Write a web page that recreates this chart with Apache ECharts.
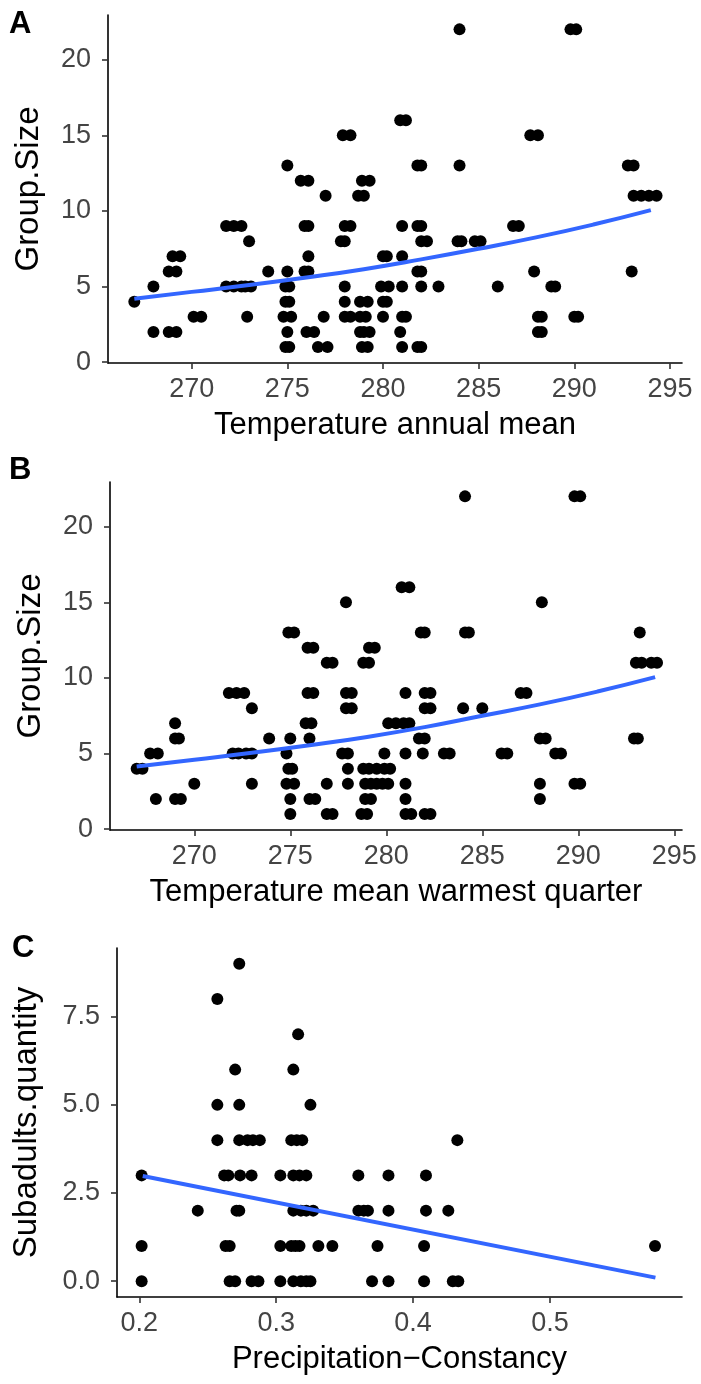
<!DOCTYPE html>
<html>
<head>
<meta charset="utf-8">
<script src="https://cdn.jsdelivr.net/npm/echarts@6/dist/echarts.min.js"></script>
<style>
  html, body { margin: 0; padding: 0; background: #fff; }
  #chart { width: 701px; height: 1384px; }
</style>
</head>
<body>
<div id="chart"></div>
<script>
// panel A: Group.Size vs temperature annual mean
const annualMeanPts = [
  [284.0, 22], [289.8, 22], [290.1, 22],
  [280.9, 16], [281.2, 16],
  [277.9, 15], [278.3, 15], [287.7, 15], [288.1, 15],
  [275.0, 13], [281.8, 13], [282.0, 13], [284.0, 13], [292.8, 13], [293.1, 13],
  [275.7, 12], [276.1, 12], [278.9, 12], [279.3, 12],
  [277.0, 11], [278.7, 11], [279.0, 11], [293.1, 11], [293.5, 11], [293.9, 11], [294.3, 11],
  [271.8, 9], [272.2, 9], [272.6, 9], [275.9, 9], [276.1, 9], [278.0, 9], [278.3, 9],
  [281.0, 9], [281.8, 9], [282.0, 9], [286.8, 9], [287.1, 9],
  [273.0, 8], [277.8, 8], [278.0, 8], [282.0, 8], [282.3, 8], [283.9, 8], [284.1, 8], [284.8, 8], [285.1, 8],
  [269.0, 7], [269.4, 7], [276.1, 7], [280.0, 7], [280.2, 7], [281.0, 7],
  [268.8, 6], [269.2, 6], [274.0, 6], [275.0, 6], [275.9, 6], [276.1, 6], [281.8, 6], [282.0, 6], [287.9, 6], [293.0, 6],
  [268.0, 5], [271.8, 5], [272.2, 5], [272.6, 5], [272.8, 5], [273.1, 5], [274.9, 5], [275.1, 5], [278.0, 5],
  [279.9, 5], [280.3, 5], [281.0, 5], [282.0, 5], [282.9, 5], [286.0, 5], [288.8, 5], [289.0, 5],
  [267.0, 4], [274.9, 4], [275.1, 4], [278.0, 4], [278.8, 4], [279.2, 4], [280.0, 4], [280.2, 4],
  [270.1, 3], [270.5, 3], [272.9, 3], [274.8, 3], [275.2, 3], [276.9, 3], [278.0, 3], [278.3, 3], [278.8, 3],
  [279.1, 3], [280.0, 3], [281.0, 3], [281.2, 3], [288.1, 3], [288.3, 3], [290.0, 3], [290.2, 3],
  [268.0, 2], [268.8, 2], [269.2, 2], [275.0, 2], [276.0, 2], [276.4, 2], [278.8, 2], [279.0, 2], [279.3, 2],
  [280.9, 2], [288.1, 2], [288.3, 2],
  [274.9, 1], [275.1, 1], [276.6, 1], [277.1, 1], [278.9, 1], [279.2, 1], [281.0, 1], [281.8, 1], [282.0, 1]
]
const annualMeanFit = [
  [267, 4.2], [270, 4.65], [273, 5.1], [276, 5.6], [279, 6.15],
  [282, 6.8], [285, 7.5], [288, 8.25], [291, 9.1], [294, 10.05]
]

// panel B: Group.Size vs temperature mean warmest quarter
const warmestPts = [
  [284.1, 22], [289.8, 22], [290.1, 22],
  [280.8, 16], [281.2, 16],
  [277.9, 15], [288.1, 15],
  [274.9, 13], [275.2, 13], [281.8, 13], [282.0, 13], [284.1, 13], [284.3, 13], [293.2, 13],
  [275.9, 12], [276.2, 12], [279.1, 12], [279.4, 12],
  [276.9, 11], [277.2, 11], [278.8, 11], [279.1, 11], [293.0, 11], [293.3, 11], [293.8, 11], [294.1, 11],
  [271.8, 9], [272.2, 9], [272.6, 9], [275.9, 9], [276.2, 9], [277.9, 9], [278.2, 9],
  [281.0, 9], [282.0, 9], [282.3, 9], [287.0, 9], [287.3, 9],
  [273.0, 8], [277.9, 8], [278.2, 8], [282.0, 8], [282.3, 8], [284.0, 8], [285.0, 8],
  [269.0, 7], [275.8, 7], [276.1, 7], [280.1, 7], [280.5, 7], [280.9, 7], [281.2, 7],
  [269.0, 6], [269.2, 6], [273.9, 6], [275.0, 6], [276.0, 6], [281.7, 6], [282.0, 6], [288.0, 6], [288.3, 6], [292.9, 6], [293.1, 6],
  [267.7, 5], [268.1, 5], [272.0, 5], [272.3, 5], [272.7, 5], [273.0, 5], [274.8, 5], [277.7, 5], [278.0, 5],
  [279.9, 5], [281.0, 5], [281.9, 5], [283.0, 5], [283.3, 5], [286.0, 5], [286.3, 5], [288.8, 5], [289.1, 5],
  [267.0, 4], [267.3, 4], [274.9, 4], [275.1, 4], [278.0, 4], [278.8, 4], [279.1, 4], [279.5, 4], [279.9, 4], [280.2, 4],
  [270.0, 3], [273.0, 3], [274.8, 3], [275.2, 3], [276.9, 3], [278.0, 3], [278.9, 3], [279.2, 3], [279.5, 3],
  [279.8, 3], [280.1, 3], [281.0, 3], [288.0, 3], [289.8, 3], [290.1, 3],
  [268.0, 2], [269.0, 2], [269.3, 2], [275.0, 2], [276.0, 2], [276.3, 2], [278.9, 2], [279.2, 2], [281.0, 2], [288.0, 2],
  [275.0, 1], [276.9, 1], [277.2, 1], [278.7, 1], [279.0, 1], [281.0, 1], [281.3, 1], [282.0, 1], [282.3, 1]
]
const warmestFit = [
  [267, 4.15], [270, 4.6], [273, 5.05], [276, 5.55], [279, 6.1],
  [282, 6.75], [285, 7.5], [288, 8.25], [291, 9.1], [294, 10.05]
]

// panel C: Subadults.quantity vs precipitation constancy
const constancyPts = [
  [0.273, 9],
  [0.257, 8],
  [0.316, 7],
  [0.270, 6], [0.3125, 6],
  [0.257, 5], [0.273, 5], [0.325, 5],
  [0.257, 4], [0.273, 4], [0.279, 4], [0.283, 4], [0.288, 4], [0.311, 4], [0.315, 4], [0.319, 4], [0.4323, 4],
  [0.2017, 3], [0.262, 3], [0.265, 3], [0.2736, 3], [0.282, 3], [0.303, 3], [0.3125, 3], [0.317, 3], [0.322, 3],
  [0.360, 3], [0.382, 3], [0.4094, 3],
  [0.2427, 2], [0.271, 2], [0.273, 2], [0.3125, 2], [0.318, 2], [0.322, 2], [0.327, 2], [0.360, 2], [0.364, 2],
  [0.367, 2], [0.382, 2], [0.4094, 2], [0.4257, 2],
  [0.2017, 1], [0.263, 1], [0.266, 1], [0.303, 1], [0.311, 1], [0.314, 1], [0.317, 1], [0.3308, 1], [0.341, 1],
  [0.374, 1], [0.408, 1], [0.5767, 1],
  [0.2017, 0], [0.266, 0], [0.270, 0], [0.282, 0], [0.287, 0], [0.303, 0], [0.3125, 0], [0.318, 0], [0.322, 0],
  [0.325, 0], [0.370, 0], [0.382, 0], [0.408, 0], [0.429, 0], [0.433, 0]
]
const constancyFit = [[0.2025, 2.98], [0.577, 0.1]]

const tempTicks = [270, 275, 280, 285, 290, 295]
const groupTicks = [0, 5, 10, 15, 20]
const constancyTicks = [0.2, 0.3, 0.4, 0.5]
const subadultTicks = [0, 2.5, 5, 7.5]

const FONT = 'Liberation Sans, Arial, sans-serif'
const BLUE = '#3366FF'

const chart = echarts.init(document.getElementById('chart'))

function xAxis(i, min, max, ticks, name, fmt) {
  return {
    gridIndex: i, type: 'value', min, max,
    axisLine: { show: true, onZero: false, lineStyle: { color: '#000', width: 1.6 } },
    axisTick: { show: true, length: 6, customValues: ticks, lineStyle: { color: '#333', width: 1.6 } },
    axisLabel: { customValues: ticks, color: '#444', fontSize: 27, fontFamily: FONT, margin: 13, formatter: fmt },
    splitLine: { show: false },
    name, nameLocation: 'middle', nameGap: 47,
    nameTextStyle: { color: '#000', fontSize: 31, fontFamily: FONT }
  }
}
function yAxis(i, min, max, ticks, name, gap, fmt) {
  return {
    gridIndex: i, type: 'value', min, max,
    axisLine: { show: true, onZero: false, lineStyle: { color: '#000', width: 1.6 } },
    axisTick: { show: true, length: 6, customValues: ticks, lineStyle: { color: '#333', width: 1.6 } },
    axisLabel: { customValues: ticks, color: '#444', fontSize: 27, fontFamily: FONT, margin: 17, formatter: fmt },
    splitLine: { show: false },
    name, nameLocation: 'middle', nameGap: gap,
    nameTextStyle: { color: '#000', fontSize: 33, fontFamily: FONT }
  }
}
function dots(i, data) {
  return {
    type: 'scatter', xAxisIndex: i, yAxisIndex: i, data,
    symbolSize: 12, itemStyle: { color: '#000', opacity: 1 }, silent: true, z: 2
  }
}
function fit(i, data) {
  return {
    type: 'line', xAxisIndex: i, yAxisIndex: i, data, smooth: true,
    showSymbol: false, lineStyle: { color: BLUE, width: 4 }, silent: true, z: 3
  }
}
const panelLabel = (text, x, y) => ({
  type: 'text', left: x, top: y,
  style: { text, fontSize: 31, fontWeight: 'bold', fontFamily: FONT, fill: '#000' }
})

chart.setOption({
  animation: false,
  grid: [
    { left: 108, top: 15, width: 574, height: 348 },
    { left: 110, top: 482, width: 572, height: 348 },
    { left: 117, top: 948, width: 565, height: 349 }
  ],
  xAxis: [
    xAxis(0, 265.625, 295.63, tempTicks, 'Temperature annual mean'),
    xAxis(1, 265.61, 295.4, tempTicks, 'Temperature mean warmest quarter'),
    xAxis(2, 0.1837, 0.5964, constancyTicks, 'Precipitation\u2212Constancy', (v) => v.toFixed(1))
  ],
  yAxis: [
    yAxis(0, -0.05, 22.95, groupTicks, 'Group.Size', 63),
    yAxis(1, -0.05, 22.95, groupTicks, 'Group.Size', 63),
    yAxis(2, -0.45, 9.45, subadultTicks, 'Subadults.quantity', 74, (v) => v.toFixed(1))
  ],
  series: [
    dots(0, annualMeanPts), fit(0, annualMeanFit),
    dots(1, warmestPts), fit(1, warmestFit),
    dots(2, constancyPts), fit(2, constancyFit)
  ],
  graphic: [
    panelLabel('A', 9, 9),
    panelLabel('B', 9, 455),
    panelLabel('C', 12, 933)
  ]
})
</script>
</body>
</html>
